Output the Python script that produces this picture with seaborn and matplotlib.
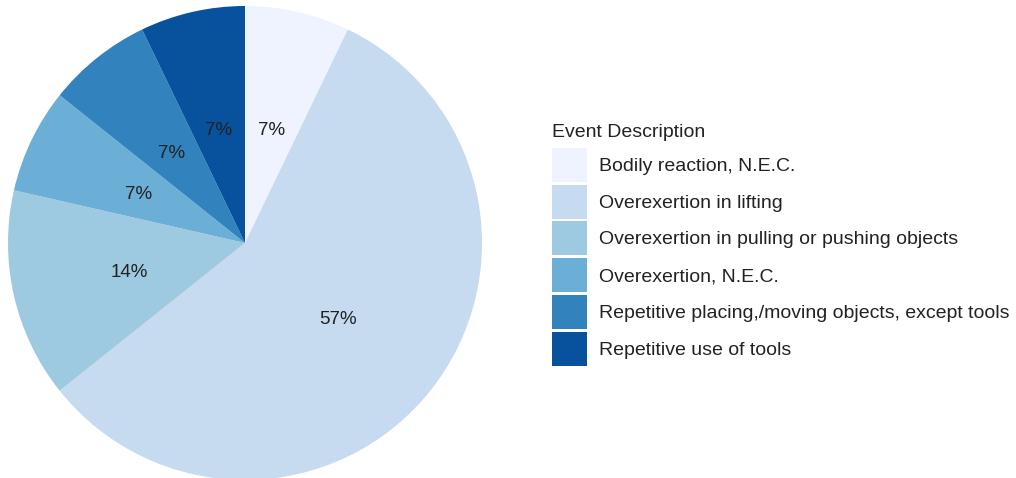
import matplotlib
matplotlib.use("Agg")
import matplotlib.pyplot as plt
import matplotlib.patches as mpatches
import matplotlib.transforms as mtransforms
import seaborn as sns

# data
events = [
    "Bodily reaction, N.E.C.",
    "Overexertion in lifting",
    "Overexertion in pulling or pushing objects",
    "Overexertion, N.E.C.",
    "Repetitive placing,/moving objects, except tools",
    "Repetitive use of tools",
]
counts = [1, 8, 2, 1, 1, 1]

sns.set_theme(style="white")
plt.rcParams["font.family"] = ["Liberation Sans", "DejaVu Sans"]

palette = sns.color_palette(["#eff3ff", "#c6dbef", "#9ecae1", "#6baed6", "#3182bd", "#08519c"])

W, H = 1016, 478
fig = plt.figure(figsize=(W / 100, H / 100), dpi=100)

# pie occupies a square on the left
ax = fig.add_axes([8 / W, -2 / H, 474 / W, 474 / H])
wedges, texts, autotexts = ax.pie(
    counts,
    colors=palette,
    startangle=90,
    counterclock=False,
    autopct=lambda p: f"{p:.0f}%",
    pctdistance=0.5,
    radius=1,
    wedgeprops=dict(linewidth=0),
    textprops=dict(fontsize=13.5, color="#222222"),
)
# nudge the percentages down a touch
shift = mtransforms.offset_copy(ax.transData, fig=fig, x=0, y=-3, units="dots")
for t in autotexts:
    t.set_transform(shift)
ax.set_xlim(-1, 1)
ax.set_ylim(-1, 1)
ax.set_aspect("equal")
ax.axis("off")

handles = [mpatches.Patch(facecolor=c, edgecolor="white", linewidth=0) for c in palette]
leg = fig.legend(
    handles, events,
    title="Event Description",
    loc="upper left",
    bbox_to_anchor=(552 / W, 1 - 124 / H),
    frameon=False,
    fontsize=14,
    title_fontsize=14,
    handlelength=1.8,
    handleheight=2.3,
    handletextpad=0.62,
    labelspacing=0.15,
    borderpad=0,
    borderaxespad=0,
    alignment="left",
)
# a bit more room between the title and the entries
leg._legend_box.sep = 5
for t in leg.get_texts():
    t.set_color("#222222")
leg.get_title().set_color("#222222")

fig.savefig("out.png", dpi=100)
